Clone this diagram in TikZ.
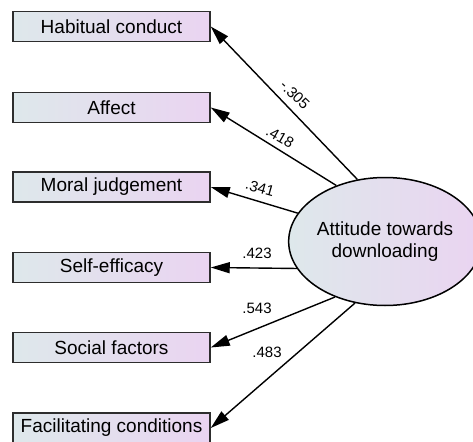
\documentclass[tikz,border=0pt]{standalone}
\usepackage{fontspec}
\setmainfont{Liberation Sans}
\usetikzlibrary{arrows.meta,shapes.geometric}

\definecolor{fillL}{RGB}{222,232,235}
\definecolor{fillR}{RGB}{234,212,241}
\definecolor{edge}{RGB}{45,45,45}

\tikzset{
    varbox/.style={draw=edge, line width=1.5pt, left color=fillL, right color=fillR,
        minimum width=197pt, minimum height=30pt, inner sep=0pt,
        font=\fontsize{19}{22}\selectfont},
    latent/.style={ellipse, draw=black, line width=1.5pt, left color=fillL, right color=fillR,
        minimum width=174pt, minimum height=128pt, inner sep=0pt, align=center,
        font=\fontsize{19}{22}\selectfont},
    path arrow/.style={line width=1.4pt, -{Triangle[length=19pt,width=11pt]}},
    coef/.style={font=\fontsize{15}{15}\selectfont, inner sep=0pt}
}

\begin{document}
\begin{tikzpicture}[x=1pt, y=-1pt]
        \useasboundingbox (0,0) rectangle (473,441);

        % Observed variables
        \node[varbox] (hab) at (111.5, 26.5) {Habitual conduct};
        \node[varbox] (aff) at (111.5, 107.5) {Affect};
        \node[varbox] (mor) at (111.5, 187) {Moral judgement};
        \node[varbox] (slf) at (111.5, 267.5) {Self-efficacy};
        \node[varbox] (soc) at (111.5, 347.5) {Social factors};
        \node[varbox] (fac) at (111.5, 428) {Facilitating conditions};

        % Latent variable
        \node[latent] (att) at (385, 241.5) {Attitude towards\\downloading};

        % Paths from the latent variable
        \draw[path arrow] (att.114) -- (hab.east);
        \draw[path arrow] (att.131) -- (aff.east);
        \draw[path arrow] (att.162) -- (mor.east);
        \draw[path arrow] (att.197) -- (slf.east);
        \draw[path arrow] (att.228) -- (soc.east);
        \draw[path arrow] (att.244) -- (fac.east);

        % Path coefficients
        \node[coef, rotate=-44] (c1) at (295, 95) {-.305};
        \node[coef, rotate=-30] (c2) at (280, 137) {.418};
        \node[coef, rotate=-16] (c3) at (260, 188) {.341};
        \node[coef] (c4) at (257, 253) {.423};
        \node[coef] (c5) at (257, 308) {.543};
        \node[coef] (c6) at (267, 352) {.483};
    \end{tikzpicture}
\end{document}
